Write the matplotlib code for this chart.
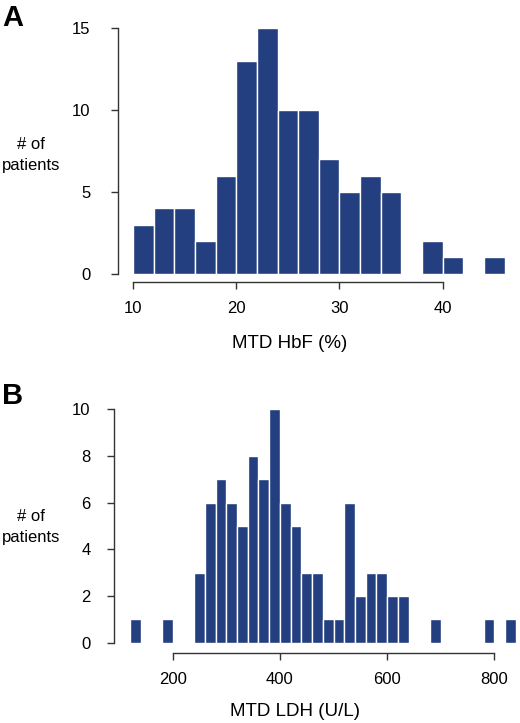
import numpy as np
import matplotlib
matplotlib.use("Agg")
import matplotlib.pyplot as plt

plt.rcParams['font.family'] = ['Liberation Sans', 'DejaVu Sans']

# Panel A: MTD HbF (%), bins of width 2
hbf_edges = np.arange(10, 46, 2)
hbf_counts = [3, 4, 4, 2, 6, 13, 15, 10, 10, 7, 5, 6, 5, 0, 2, 1, 0, 1]

# Panel B: MTD LDH (U/L), bins of width 20
ldh_edges = np.arange(120, 840, 20)
ldh_counts = [1, 0, 0, 1, 0, 0, 3, 6, 7, 6, 5, 8, 7, 10, 6, 5, 3, 3,
              1, 1, 6, 2, 3, 3, 2, 2, 0, 0, 1, 0, 0, 0, 0, 1, 0, 1]

bar_color = "#233f80"
axis_color = "#333333"

W, H = 520, 723
fig = plt.figure(figsize=(W / 100, H / 100), dpi=100)


def px_axes(left, top, right, bottom):
    return fig.add_axes([left / W, 1 - bottom / H, (right - left) / W, (bottom - top) / H])


def style(ax, xb, yb, xticks, yticks, xpad, ypad):
    for s in ["top", "right"]:
        ax.spines[s].set_visible(False)
    ax.spines["left"].set_bounds(*yb)
    ax.spines["bottom"].set_bounds(*xb)
    for s in ["left", "bottom"]:
        ax.spines[s].set_color(axis_color)
        ax.spines[s].set_linewidth(1.0)
    ax.set_xticks(xticks)
    ax.set_yticks(yticks)
    ax.tick_params(axis="both", colors=axis_color, labelcolor="black",
                   length=5, width=1.0, labelsize=12)
    ax.tick_params(axis="x", pad=xpad)
    ax.tick_params(axis="y", pad=ypad)


# Panel A
axA = px_axes(118, 20, 515, 282)
axA.bar(hbf_edges, hbf_counts, width=2, align="edge", color=bar_color,
        edgecolor="white", linewidth=1.0)
axA.set_xlim(8.55, 47.0)
axA.set_ylim(-0.51, 15.51)
style(axA, (10, 40), (0, 15), [10, 20, 30, 40], [0, 5, 10, 15], 9, 15)

# Panel B
axB = px_axes(114, 400, 519, 653)
axB.bar(ldh_edges, ldh_counts, width=20, align="edge", color=bar_color,
        edgecolor="white", linewidth=1.0)
axB.set_xlim(90.5, 846)
axB.set_ylim(-0.446, 10.4)
style(axB, (200, 800), (0, 10), [200, 400, 600, 800], [0, 2, 4, 6, 8, 10], 8.5, 12)

# labels
fig.text(290 / W, 1 - 344 / H, "MTD HbF (%)", ha="center", va="center", fontsize=13.5)
fig.text(295 / W, 1 - 711 / H, "MTD LDH (U/L)", ha="center", va="center", fontsize=13.5)
fig.text(31 / W, 1 - 155 / H, "# of\npatients", ha="center", va="center",
         fontsize=12, linespacing=1.5)
fig.text(31 / W, 1 - 527 / H, "# of\npatients", ha="center", va="center",
         fontsize=12, linespacing=1.5)
fig.text(2 / W, 1 - 4 / H, "A", ha="left", va="top", fontsize=21, fontweight="bold")
fig.text(2 / W, 1 - 382 / H, "B", ha="left", va="top", fontsize=21, fontweight="bold")

fig.savefig("out.png", dpi=100)
